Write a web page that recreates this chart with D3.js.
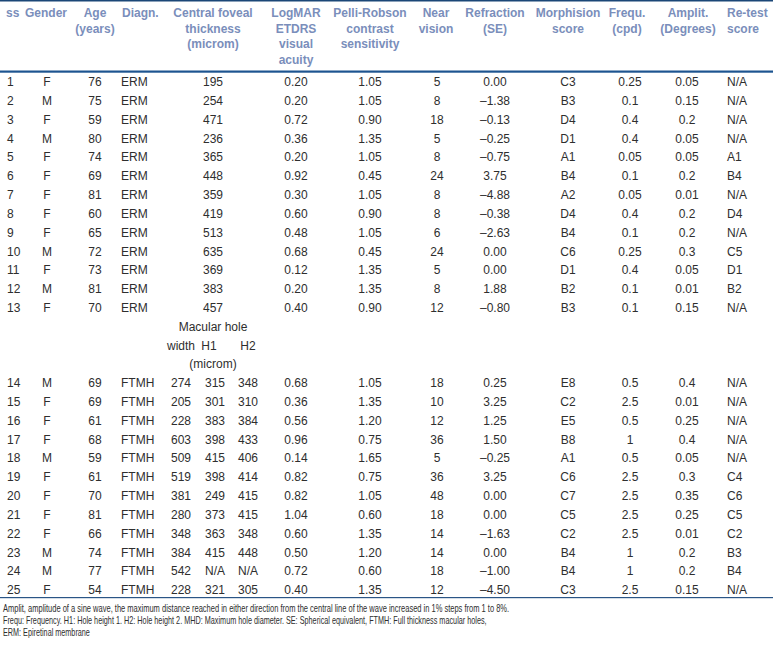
<!DOCTYPE html>
<html>
<head>
<meta charset="utf-8">
<script src="https://cdn.jsdelivr.net/npm/d3@7/dist/d3.min.js"></script>
<style>
  html, body { margin: 0; padding: 0; background: #fff; }
  svg { display: block; }
</style>
</head>
<body>
<script>
// ---------------- DATA ----------------
const ssIds = ["1","2","3","4","5","6","7","8","9","10","11","12","13","14","15","16","17","18","19","20","21","22","23","24","25"];
const gender = ["F","M","F","M","F","F","F","F","F","M","F","M","F","M","F","F","F","M","F","F","F","F","M","M","F"];
const age = ["76","75","59","80","74","69","81","60","65","72","73","81","70","69","69","61","68","59","61","70","81","66","74","77","54"];
const diagn = ["ERM","ERM","ERM","ERM","ERM","ERM","ERM","ERM","ERM","ERM","ERM","ERM","ERM","FTMH","FTMH","FTMH","FTMH","FTMH","FTMH","FTMH","FTMH","FTMH","FTMH","FTMH","FTMH"];
// Central foveal thickness (ERM rows 1-13)
const cft = ["195","254","471","236","365","448","359","419","513","635","369","383","457"];
// Macular hole (FTMH rows 14-25)
const holeWidth = ["274","205","228","603","509","519","381","280","348","384","542","228"];
const holeH1 = ["315","301","383","398","415","398","249","373","363","415","N/A","321"];
const holeH2 = ["348","310","384","433","406","414","415","415","348","448","N/A","305"];
const logmar = ["0.20","0.20","0.72","0.36","0.20","0.92","0.30","0.60","0.48","0.68","0.12","0.20","0.40","0.68","0.36","0.56","0.96","0.14","0.82","0.82","1.04","0.60","0.50","0.72","0.40"];
const pelli = ["1.05","1.05","0.90","1.35","1.05","0.45","1.05","0.90","1.05","0.45","1.35","1.35","0.90","1.05","1.35","1.20","0.75","1.65","0.75","1.05","0.60","1.35","1.20","0.60","1.35"];
const nearVision = ["5","8","18","5","8","24","8","8","6","24","5","8","12","18","10","12","36","5","36","48","18","14","14","18","12"];
const refraction = ["0.00","\u20131.38","\u20130.13","\u20130.25","\u20130.75","3.75","\u20134.88","\u20130.38","\u20132.63","0.00","0.00","1.88","\u20130.80","0.25","3.25","1.25","1.50","\u20130.25","3.25","0.00","0.00","\u20131.63","0.00","\u20131.00","\u20134.50"];
const morph = ["C3","B3","D4","D1","A1","B4","A2","D4","B4","C6","D1","B2","B3","E8","C2","E5","B8","A1","C6","C7","C5","C2","B4","B4","C3"];
const frequ = ["0.25","0.1","0.4","0.4","0.05","0.1","0.05","0.4","0.1","0.25","0.4","0.1","0.1","0.5","2.5","0.5","1","0.5","2.5","2.5","2.5","2.5","1","1","2.5"];
const amplit = ["0.05","0.15","0.2","0.05","0.05","0.2","0.01","0.2","0.2","0.3","0.05","0.01","0.15","0.4","0.01","0.25","0.4","0.05","0.3","0.35","0.25","0.01","0.2","0.2","0.15"];
const retest = ["N/A","N/A","N/A","N/A","A1","B4","N/A","D4","N/A","C5","D1","B2","N/A","N/A","N/A","N/A","N/A","N/A","C4","C6","C5","C2","B3","B4","N/A"];

const headerLabels = [
  ["ss"], ["Gender"], ["Age","(years)"], ["Diagn."],
  ["Central foveal","thickness","(microm)"],
  ["LogMAR","ETDRS","visual","acuity"],
  ["Pelli-Robson","contrast","sensitivity"],
  ["Near","vision"], ["Refraction","(SE)"], ["Morphision","score"],
  ["Frequ.","(cpd)"], ["Amplit.","(Degrees)"], ["Re-test","score"]
];
const subHeaderTop = "Macular hole";
const subHeaderCols = ["width","H1","H2"];
const subHeaderUnit = "(microm)";
const footnotes = [
  "Amplit, amplitude of a sine wave, the maximum distance reached in either direction from the central line of the wave increased in 1% steps from 1 to 8%.",
  "Frequ: Frequency. H1: Hole height 1. H2: Hole height 2. MHD: Maximum hole diameter. SE: Spherical equivalent, FTMH: Full thickness macular holes,",
  "ERM: Epiretinal membrane"
];

// ---------------- LAYOUT ----------------
const W = 773, H = 652;
const headColor = "#7a8ebb", textColor = "#2e2e2e", ruleColor = "#1d5490";
const font = "'Liberation Sans', Arial, Helvetica, sans-serif";

const svg = d3.select("body").append("svg").attr("width", W).attr("height", H)
  .style("font-family", font);

const colKeys = ["ss","gender","age","diagn","cft","logmar","pelli","near","refr","morph","frequ","amplit","retest"];
const colX = d3.scaleOrdinal().domain(colKeys).range([7,47,95,121,213,296,370,437,495,568,630,687,727]);
const headX = d3.scaleOrdinal().domain(colKeys).range([6,46,95,122,213,296,370,436,495,568,627,688,727]);
const colAnchor = d3.scaleOrdinal().domain(colKeys).range(["start","middle","middle","start","middle","middle","middle","middle","middle","middle","middle","middle","start"]);
const holeKeys = ["width","h1","h2"];
const holeX = d3.scaleOrdinal().domain(holeKeys).range([181,215,248]);
const holeHeadX = d3.scaleOrdinal().domain(holeKeys).range([181,209,248]);

// slot scale: rows 1-13 -> slots 0-12, subheader slots 13-15, rows 14-25 -> slots 16-27
const slotY = d3.scaleLinear().domain([0,27]).range([82,590]);
const rowSlot = i => i < 13 ? i : i + 3;
const headY = d3.scaleLinear().domain([0,3]).range([13,59.5]);

// rules
svg.append("rect").attr("x",0).attr("y",0).attr("width",W).attr("height",1.5).attr("fill","#1b4777");
svg.append("rect").attr("x",0).attr("y",70.5).attr("width",W).attr("height",2.2).attr("fill",ruleColor);
svg.append("rect").attr("x",0).attr("y",597).attr("width",W).attr("height",1.2).attr("fill","#2a5586");

// header
const headG = svg.append("g").attr("font-size", 12).attr("font-weight", "bold").attr("fill", headColor);
headerLabels.forEach((lines, c) => {
  const k = colKeys[c];
  lines.forEach((t, li) => {
    headG.append("text").attr("x", headX(k)).attr("y", headY(li)).attr("dy", "0.35em")
      .attr("text-anchor", colAnchor(k)).text(t);
  });
});

// body
const columns = {ss: ssIds, gender, age, diagn, logmar, pelli, near: nearVision, refr: refraction, morph, frequ, amplit, retest};
const bodyG = svg.append("g").attr("font-size", 12).attr("fill", textColor);
Object.keys(columns).forEach(k => {
  bodyG.selectAll(null).data(columns[k]).join("text")
    .attr("x", colX(k)).attr("y", (d, i) => slotY(rowSlot(i))).attr("dy", "0.35em")
    .attr("text-anchor", colAnchor(k)).text(d => d);
});
bodyG.selectAll(null).data(cft).join("text")
  .attr("x", colX("cft")).attr("y", (d, i) => slotY(rowSlot(i))).attr("dy", "0.35em")
  .attr("text-anchor", "middle").text(d => d);
const holeCols = {width: holeWidth, h1: holeH1, h2: holeH2};
holeKeys.forEach(k => {
  bodyG.selectAll(null).data(holeCols[k]).join("text")
    .attr("x", holeX(k)).attr("y", (d, i) => slotY(rowSlot(i + 13))).attr("dy", "0.35em")
    .attr("text-anchor", "middle").text(d => d);
});
// sub header for macular hole
bodyG.append("text").attr("x", colX("cft")).attr("y", slotY(13)).attr("dy","0.35em")
  .attr("text-anchor","middle").text(subHeaderTop);
holeKeys.forEach((k, j) => {
  bodyG.append("text").attr("x", holeHeadX(k)).attr("y", slotY(14)).attr("dy","0.35em")
    .attr("text-anchor","middle").text(subHeaderCols[j]);
});
bodyG.append("text").attr("x", colX("cft")).attr("y", slotY(15)).attr("dy","0.35em")
  .attr("text-anchor","middle").text(subHeaderUnit);

// footnotes (condensed horizontally to match the narrow face of the original)
const footY = [611.5, 623.5, 635.5];
const footW = [507, 484, 87];
const footG = svg.append("g").attr("font-size", 10.3).attr("fill", textColor);
footnotes.forEach((t, i) => {
  const tx = footG.append("text").attr("x", 0).attr("y", 0).text(t);
  const natural = tx.node().getComputedTextLength();
  const sx = footW[i] / natural;
  tx.attr("transform", `translate(3,${footY[i]}) scale(${sx},1)`);
});
</script>
</body>
</html>
